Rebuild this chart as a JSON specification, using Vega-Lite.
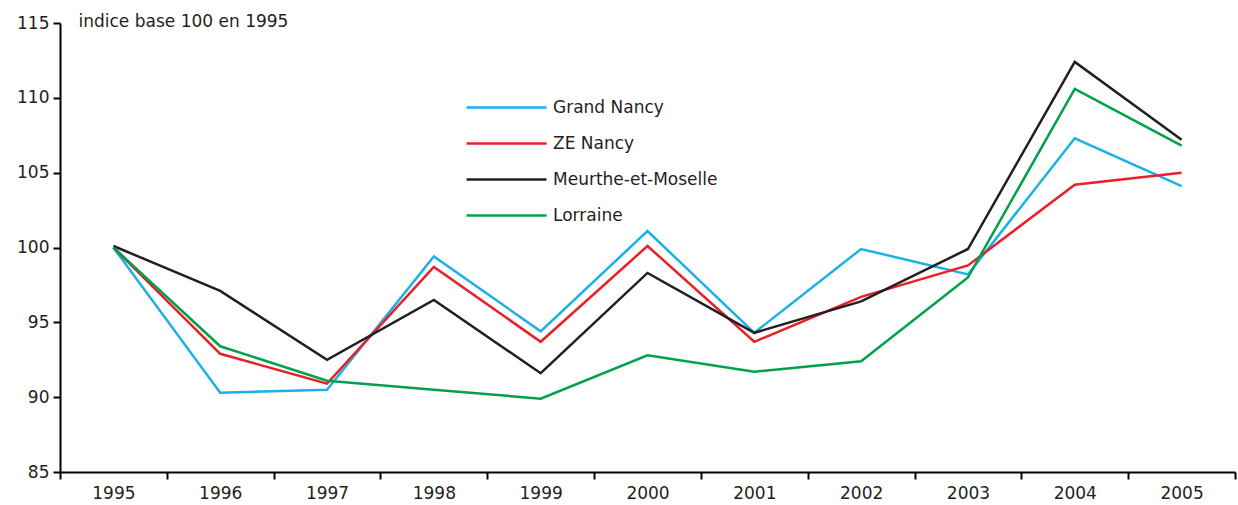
{
  "$schema": "https://vega.github.io/schema/vega-lite/v6.json",
  "width": 1175,
  "height": 449,
  "autosize": {"type": "none"},
  "padding": {"left": 60, "top": 23, "right": 3, "bottom": 33},
  "config": {
    "view": {"stroke": null},
    "font": "DejaVu Sans",
    "axis": {"labelFont": "DejaVu Sans", "labelFontSize": 17, "labelColor": "#231F20", "domainColor": "#000000", "tickColor": "#000000", "domainWidth": 2, "tickWidth": 2, "grid": false}
  },
  "data": {"values": [
    {"year": "1995", "s": "Grand Nancy", "v": 100},
    {"year": "1996", "s": "Grand Nancy", "v": 90.3},
    {"year": "1997", "s": "Grand Nancy", "v": 90.5},
    {"year": "1998", "s": "Grand Nancy", "v": 99.4},
    {"year": "1999", "s": "Grand Nancy", "v": 94.4},
    {"year": "2000", "s": "Grand Nancy", "v": 101.1},
    {"year": "2001", "s": "Grand Nancy", "v": 94.3},
    {"year": "2002", "s": "Grand Nancy", "v": 99.9},
    {"year": "2003", "s": "Grand Nancy", "v": 98.2},
    {"year": "2004", "s": "Grand Nancy", "v": 107.3},
    {"year": "2005", "s": "Grand Nancy", "v": 104.1},
    {"year": "1995", "s": "ZE Nancy", "v": 100},
    {"year": "1996", "s": "ZE Nancy", "v": 92.9},
    {"year": "1997", "s": "ZE Nancy", "v": 90.9},
    {"year": "1998", "s": "ZE Nancy", "v": 98.7},
    {"year": "1999", "s": "ZE Nancy", "v": 93.7},
    {"year": "2000", "s": "ZE Nancy", "v": 100.1},
    {"year": "2001", "s": "ZE Nancy", "v": 93.7},
    {"year": "2002", "s": "ZE Nancy", "v": 96.7},
    {"year": "2003", "s": "ZE Nancy", "v": 98.8},
    {"year": "2004", "s": "ZE Nancy", "v": 104.2},
    {"year": "2005", "s": "ZE Nancy", "v": 105.0},
    {"year": "1995", "s": "Meurthe-et-Moselle", "v": 100.1},
    {"year": "1996", "s": "Meurthe-et-Moselle", "v": 97.1},
    {"year": "1997", "s": "Meurthe-et-Moselle", "v": 92.5},
    {"year": "1998", "s": "Meurthe-et-Moselle", "v": 96.5},
    {"year": "1999", "s": "Meurthe-et-Moselle", "v": 91.6},
    {"year": "2000", "s": "Meurthe-et-Moselle", "v": 98.3},
    {"year": "2001", "s": "Meurthe-et-Moselle", "v": 94.3},
    {"year": "2002", "s": "Meurthe-et-Moselle", "v": 96.4},
    {"year": "2003", "s": "Meurthe-et-Moselle", "v": 99.9},
    {"year": "2004", "s": "Meurthe-et-Moselle", "v": 112.4},
    {"year": "2005", "s": "Meurthe-et-Moselle", "v": 107.2},
    {"year": "1995", "s": "Lorraine", "v": 100},
    {"year": "1996", "s": "Lorraine", "v": 93.4},
    {"year": "1997", "s": "Lorraine", "v": 91.1},
    {"year": "1998", "s": "Lorraine", "v": 90.5},
    {"year": "1999", "s": "Lorraine", "v": 89.9},
    {"year": "2000", "s": "Lorraine", "v": 92.8},
    {"year": "2001", "s": "Lorraine", "v": 91.7},
    {"year": "2002", "s": "Lorraine", "v": 92.4},
    {"year": "2003", "s": "Lorraine", "v": 98.0},
    {"year": "2004", "s": "Lorraine", "v": 110.6},
    {"year": "2005", "s": "Lorraine", "v": 106.8}
  ]},
  "mark": {"type": "line", "strokeWidth": 2.5},
  "encoding": {
    "x": {
      "field": "year", "type": "ordinal", "bandPosition": 0.5,
      "scale": {"type": "band", "paddingInner": 0, "paddingOuter": 0},
      "axis": {"title": null, "labelAngle": 0, "tickBand": "extent", "tickSize": 7, "labelPadding": 6, "labelFontSize": 17}
    },
    "y": {
      "field": "v", "type": "quantitative",
      "scale": {"domain": [85, 115], "nice": false, "zero": false},
      "axis": {"values": [85, 90, 95, 100, 105, 110, 115], "tickSize": 7, "labelPadding": 4, "title": "indice base 100 en 1995", "titleAngle": 0, "titleAlign": "left", "titleBaseline": "alphabetic", "titleX": 18, "titleY": 3, "titleFont": "DejaVu Sans", "titleFontSize": 17, "titleFontWeight": "normal", "titleColor": "#231F20"}
    },
    "color": {
      "field": "s", "type": "nominal",
      "scale": {"domain": ["Grand Nancy", "ZE Nancy", "Meurthe-et-Moselle", "Lorraine"], "range": ["#1BB1E7", "#E8202A", "#231F20", "#00A14B"]},
      "legend": {
        "title": null, "orient": "none", "legendX": 438, "legendY": 76,
        "symbolType": "M-8,0L8,0", "symbolSize": 100, "symbolStrokeWidth": 2.5,
        "labelOffset": 38, "labelFontSize": 17, "labelFont": "DejaVu Sans", "labelColor": "#231F20", "labelLimit": 0,
        "rowPadding": 18
      }
    }
  }
}
